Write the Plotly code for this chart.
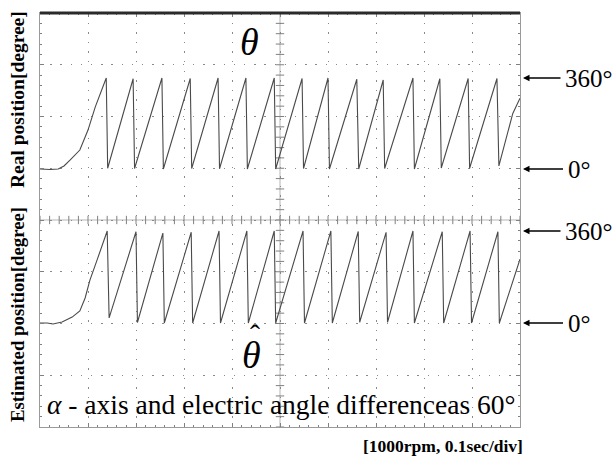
import numpy as np
import plotly.graph_objects as go

# ---------------- data (time in s, angle in degrees) ----------------
real_t = [0.000, 0.021, 0.038, 0.050, 0.063, 0.083, 0.100, 0.115, 0.138, 0.141,
          0.194, 0.197, 0.254, 0.257, 0.313, 0.316, 0.371, 0.374, 0.429, 0.432,
          0.488, 0.491, 0.546, 0.549, 0.600, 0.603, 0.660, 0.664, 0.715, 0.718,
          0.777, 0.780, 0.833, 0.836, 0.892, 0.895, 0.952, 0.956, 0.985, 1.000]
real_deg = [0, -2, 0, 12, 36, 75, 154, 245, 360, 3,
            357, 2, 360, 0, 358, 2, 360, 1, 360, 0,
            360, 0, 358, 2, 360, 0, 355, 0, 352, 2,
            360, 0, 357, 4, 358, 3, 358, 12, 220, 280]

est_t = [0.000, 0.015, 0.027, 0.046, 0.067, 0.083, 0.094, 0.104, 0.119, 0.140,
         0.144, 0.200, 0.203, 0.256, 0.259, 0.315, 0.318, 0.373, 0.376, 0.431,
         0.434, 0.488, 0.491, 0.548, 0.551, 0.606, 0.609, 0.663, 0.666, 0.721,
         0.724, 0.777, 0.780, 0.838, 0.841, 0.896, 0.899, 0.954, 0.957, 1.000]
est_deg = [0, 0, -4, 4, 23, 47, 98, 168, 247, 360,
           20, 357, 2, 352, 0, 355, 0, 360, 0, 360,
           0, 360, 0, 360, 0, 360, 0, 358, 3, 355,
           3, 360, 0, 357, 0, 360, 0, 357, 0, 250]

label_real = "Real position[degree]"
label_est = "Estimated position[degree]"
caption = "<i>α</i> - axis and electric angle differenceas 60°"
scale_note = "<b>[1000rpm, 0.1sec/div]</b>"

# ---------------- geometry ----------------
W, H = 614, 459
L, R, T, B = 40, 520, 13, 427          # plot area in pixels
PH = B - T

def deg_range(y0px, y360px):
    f0 = (B - y0px) / PH
    f1 = (B - y360px) / PH
    span = 360 / (f1 - f0)
    lo = -f0 * span
    return [lo, lo + span]

FONT = "Liberation Serif"
GRID = "#8a8a8a"
TRACE = "#4a4a4a"
TICKC = "#808080"

fig = go.Figure()

# centre-cross graticule ticks (oscilloscope screen)
minor_x = np.round(np.arange(0, 1.0001, 0.02), 3)
minor_y = np.round(np.arange(0, 8.0001, 0.2), 3)
fig.add_trace(go.Scatter(x=minor_x, y=[4] * len(minor_x), mode="markers", xaxis="x", yaxis="y",
                         marker=dict(symbol="line-ns", size=6,
                                     line=dict(color=TICKC, width=1)), hoverinfo="skip"))
fig.add_trace(go.Scatter(x=[0.5] * len(minor_y), y=minor_y, mode="markers", xaxis="x", yaxis="y",
                         marker=dict(symbol="line-ew", size=6,
                                     line=dict(color=TICKC, width=1)), hoverinfo="skip"))

fig.add_trace(go.Scatter(x=real_t, y=real_deg, mode="lines", xaxis="x", yaxis="y2",
                         line=dict(color=TRACE, width=1.1), hoverinfo="skip"))
fig.add_trace(go.Scatter(x=est_t, y=est_deg, mode="lines", xaxis="x", yaxis="y3",
                         line=dict(color=TRACE, width=1.1), hoverinfo="skip"))

common = dict(showticklabels=False, zeroline=False, fixedrange=True)

fig.update_layout(
    width=W, height=H,
    margin=dict(l=L, r=W - R, t=T, b=H - B, pad=0),
    paper_bgcolor="white", plot_bgcolor="white",
    showlegend=False,
    font=dict(family=FONT, color="black"),
    xaxis=dict(range=[0, 1], dtick=0.1, showgrid=True, gridcolor=GRID, gridwidth=1.3,
               griddash="1.3px,8.3px", showline=True, linecolor="#9a9a9a", linewidth=1,
               mirror="ticks", ticks="inside", ticklen=4, tickcolor=TICKC,
               minor=dict(dtick=0.02, ticks="inside", ticklen=2, tickcolor=TICKC),
               **common),
    yaxis=dict(range=[0, 8], dtick=1, showgrid=True, gridcolor=GRID, gridwidth=1.3,
               griddash="1.3px,8.9px", showline=True, linecolor="#9a9a9a", linewidth=1,
               mirror="ticks", ticks="inside", ticklen=4, tickcolor=TICKC,
               minor=dict(dtick=0.2, ticks="inside", ticklen=2, tickcolor=TICKC),
               **common),
    yaxis2=dict(range=deg_range(169, 78), overlaying="y", visible=False, **common),
    yaxis3=dict(range=deg_range(323, 231), overlaying="y", visible=False, **common),
)

# screen frame details: heavy top edge and light centre lines
fig.add_shape(type="line", xref="paper", yref="paper", x0=0, x1=1, y0=1, y1=1,
              line=dict(color="#2a2a2a", width=3))
fig.add_shape(type="line", xref="x", yref="y", x0=0, x1=1, y0=4, y1=4,
              line=dict(color="#b5b5b5", width=1), layer="below")
fig.add_shape(type="line", xref="x", yref="y", x0=0.5, x1=0.5, y0=0, y1=8,
              line=dict(color="#b5b5b5", width=1), layer="below")

def px_x(p):
    return (p - L) / (R - L)

def px_y(p):
    return (B - p) / PH

def note(text, x, y, size, xanchor="center", angle=0):
    return dict(text=text, x=px_x(x), y=px_y(y), xref="paper", yref="paper",
                xanchor=xanchor, yanchor="middle", textangle=angle, showarrow=False,
                font=dict(size=size, family=FONT))

ann = [
    note("<i>θ</i>", 249, 42, 38),
    note("<i>θ</i>", 251, 355, 38),
    note("ˆ", 255, 334, 30),
    note(caption, 45, 404, 27.5, xanchor="left"),
    note("<b>" + label_real + "</b>", 17, 100, 19.5, angle=-90),
    note("<b>" + label_est + "</b>", 17, 315, 18.8, angle=-90),
    note(scale_note, 525, 446, 17.5, xanchor="right"),
]
for yr, val, txt, off in [("y2", 360, "360°", 69), ("y2", 0, "0°", 59),
                          ("y3", 360, "360°", 69), ("y3", 0, "0°", 59)]:
    ann.append(dict(text=txt, x=1.0, y=val, xref="x", yref=yr, ax=off, ay=0,
                    showarrow=True, arrowhead=2, arrowsize=1, arrowwidth=1.3,
                    arrowcolor="black", standoff=3, borderpad=4,
                    font=dict(size=25, family=FONT)))
fig.update_layout(annotations=ann)

fig.write_html("out.html")
